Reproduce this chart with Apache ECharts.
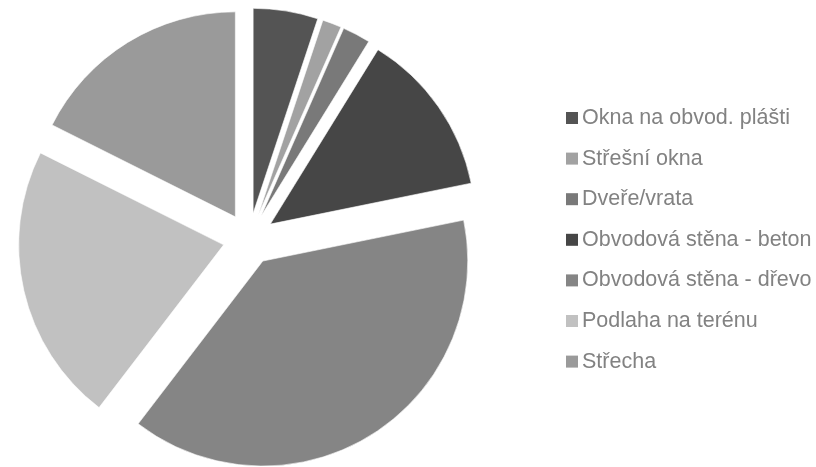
<!DOCTYPE html>
<html>
<head>
<meta charset="utf-8">
<script src="https://cdn.jsdelivr.net/npm/echarts@6/dist/echarts.min.js"></script>
<style>
  html, body { margin: 0; padding: 0; background: #fff; }
  #chart { width: 816px; height: 467px; }
</style>
</head>
<body>
<div id="chart"></div>
<script>
// Share of heat loss by building element (%)
const categories = [
  'Okna na obvod. plášti',
  'Střešní okna',
  'Dveře/vrata',
  'Obvodová stěna - beton',
  'Obvodová stěna - dřevo',
  'Podlaha na terénu',
  'Střecha'
];
const shares = [5.1, 1.5, 2.2, 13.0, 38.6, 22.0, 17.6];
const sliceColors = ['#545454', '#a2a2a2', '#797979', '#464646', '#858585', '#c1c1c1', '#9a9a9a'];

const chart = echarts.init(document.getElementById('chart'), null, { renderer: 'canvas' });

chart.setOption({
  animation: false,
  backgroundColor: '#ffffff',
  legend: {
    orient: 'vertical',
    left: 566,
    top: 106,
    padding: 0,
    icon: 'rect',
    itemWidth: 12,
    itemHeight: 12,
    itemGap: 16.6,
    itemStyle: { borderWidth: 0 },
    selectedMode: false,
    textStyle: {
      fontFamily: 'Liberation Sans',
      fontSize: 21.5,
      lineHeight: 24,
      color: '#828282',
      padding: [0, 0, 0, -1]
    },
    data: categories
  },
  series: [{
    type: 'pie',
    center: [249, 239],
    radius: 205,
    startAngle: 90,
    clockwise: true,
    selectedMode: 'multiple',
    selectedOffset: 26,
    avoidLabelOverlap: false,
    label: { show: false },
    labelLine: { show: false },
    emphasis: { disabled: true },
    itemStyle: { borderColor: '#ffffff', borderWidth: 0.6 },
    data: categories.map((name, i) => ({
      name,
      value: shares[i],
      selected: true,
      itemStyle: { color: sliceColors[i] }
    }))
  }]
});
</script>
</body>
</html>
